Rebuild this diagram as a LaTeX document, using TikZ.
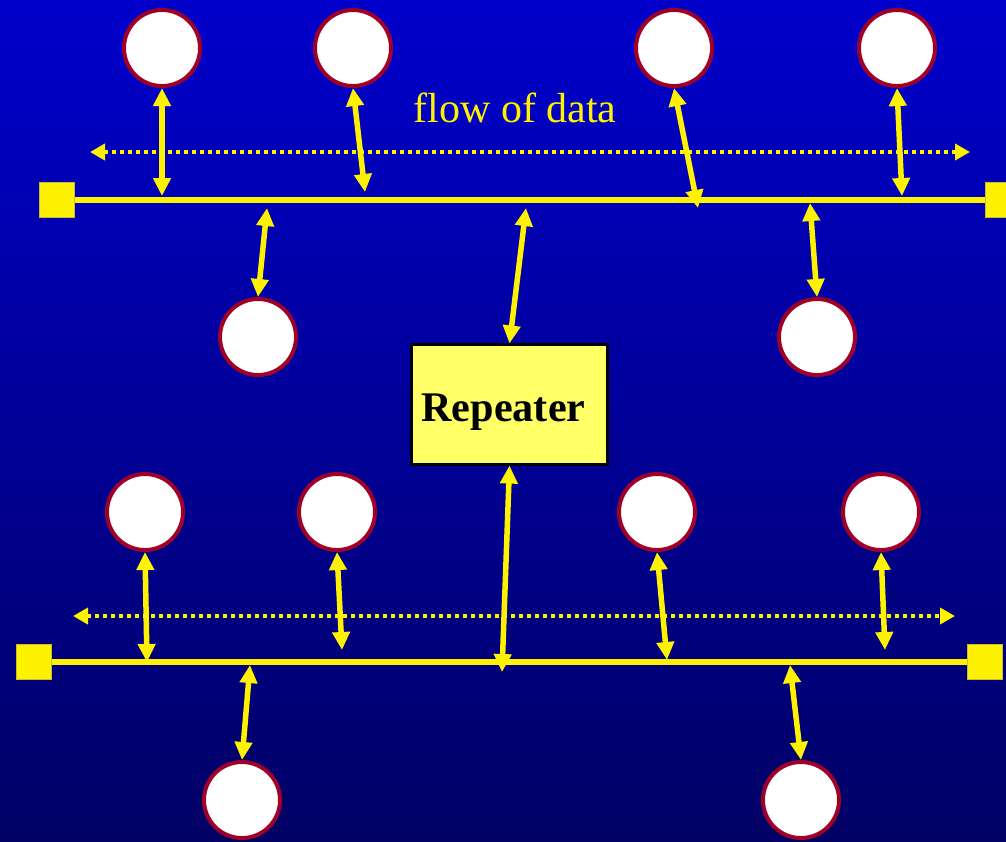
\documentclass[tikz,border=0pt]{standalone}
\usepackage{fontspec}
\setmainfont{Liberation Serif}
\usetikzlibrary{positioning,arrows.meta}
\definecolor{bgtop}{RGB}{0,0,204}
\definecolor{bgbot}{RGB}{0,0,100}
\definecolor{ring}{RGB}{160,0,40}
\definecolor{boxfill}{RGB}{255,255,102}

\begin{document}
\begin{tikzpicture}[
			x=0.01cm, y=-0.01cm,
			station/.style={circle, draw=ring, line width=0.04cm, fill=white, minimum size=0.76cm, inner sep=0pt},
			term/.style={rectangle, fill=yellow, draw=yellow!75!black, line width=0.2pt, minimum size=0.35cm, inner sep=0pt},
			bus/.style={yellow, line width=0.055cm},
			link/.style={yellow, line width=0.055cm, {Triangle[width=0.17cm,length=0.18cm]}-{Triangle[width=0.17cm,length=0.18cm]}},
			flow/.style={yellow, line width=0.045cm, dash pattern=on 0.04cm off 0.04cm, {Triangle[width=0.16cm,length=0.15cm]}-{Triangle[width=0.16cm,length=0.15cm]}}
		]
		\shade[top color=bgtop, bottom color=bgbot] (0,0) rectangle (1006,841);
		\useasboundingbox (0,0) rectangle (1006,841);
		\begin{scope}
			\clip (0,0) rectangle (1006,841);

			\node[term] (tl) at (57,200) {};
			\node[term] (tr) at (1003,200) {};
			\draw[bus] (tl) -- (tr);
			\coordinate (fa) at (90,152);
			\coordinate (fb) at (970,152);
			\draw[flow] (fa) -- (fb);
			\node[text=yellow, font=\fontsize{11.95}{14}\selectfont] (flowtxt) at (515,108) {flow of data};

			\node[station] (t1) at (162,48) {};
			\node[station] (t2) at (353,48) {};
			\node[station] (t3) at (674,48) {};
			\node[station] (t4) at (897,48) {};
			\node[station] (m1) at (258,337) {};
			\node[station] (m2) at (817,337) {};

			\coordinate (pt1) at (162,196);
			\coordinate (pt2) at (365,192);
			\coordinate (pt3) at (698,208);
			\coordinate (pt4) at (902,196);
			\coordinate (pm1) at (267,208);
			\coordinate (pm2) at (810,203);
			\coordinate (pr1) at (526,208);
			\draw[link] (t1.south) -- (pt1);
			\draw[link] (t2.south) -- (pt2);
			\draw[link] (t3.south) -- (pt3);
			\draw[link] (t4.south) -- (pt4);
			\draw[link] (pm1) -- (m1.north);
			\draw[link] (pm2) -- (m2.north);

			\node[rectangle, draw=black, line width=0.03cm, fill=boxfill, inner sep=0pt, minimum width=1.95cm, minimum height=1.19cm, font=\fontsize{12}{14}\selectfont\bfseries] (rep) at (509.5,404.5) {\raisebox{-0.08cm}[\height][\depth]{Repeater}\kern0.12cm};
			\draw[link] (pr1) -- (rep.north);

			\node[term] (bl) at (34,662) {};
			\node[term] (br) at (985,662) {};
			\draw[bus] (bl) -- (br);
			\coordinate (ga) at (73,616);
			\coordinate (gb) at (955,616);
			\draw[flow] (ga) -- (gb);

			\node[station] (u1) at (145,512) {};
			\node[station] (u2) at (337,512) {};
			\node[station] (u3) at (657,512) {};
			\node[station] (u4) at (881,512) {};
			\node[station] (d1) at (242,800) {};
			\node[station] (d2) at (801,800) {};

			\coordinate (pu1) at (147,662);
			\coordinate (pu2) at (342,650);
			\coordinate (pu3) at (667,660);
			\coordinate (pu4) at (885,650);
			\coordinate (pd1) at (250,665);
			\coordinate (pd2) at (790,665);
			\coordinate (pr2) at (502,672);
			\draw[link] (u1.south) -- (pu1);
			\draw[link] (u2.south) -- (pu2);
			\draw[link] (u3.south) -- (pu3);
			\draw[link] (u4.south) -- (pu4);
			\draw[link] (pd1) -- (d1.north);
			\draw[link] (pd2) -- (d2.north);
			\draw[link] (rep.south) -- (pr2);
		\end{scope}
	\end{tikzpicture}
\end{document}
